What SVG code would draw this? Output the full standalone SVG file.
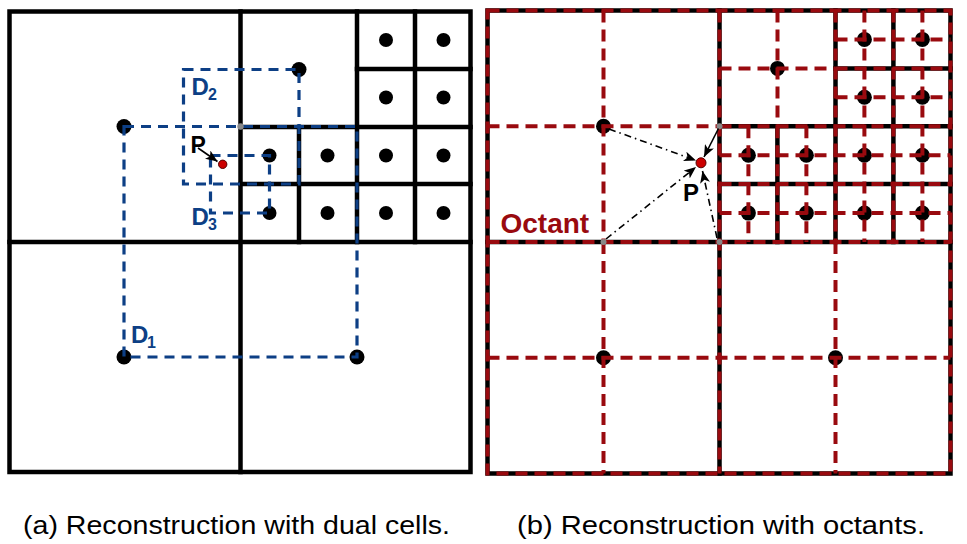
<svg xmlns="http://www.w3.org/2000/svg" width="967" height="544" viewBox="0 0 967 544">
<style>
.grid{stroke:#000;stroke-width:4.5;fill:none;stroke-linecap:square}
.blue{stroke:#0d3f85;stroke-width:3.2;fill:none;stroke-dasharray:10 7}
.red{stroke:#990a0f;stroke-width:4;fill:none;stroke-dasharray:12 7}
.dot{fill:#000}
.gray{fill:#888}
.pdot{fill:#cc0000;stroke:#550000;stroke-width:1}
.lbl{font-family:"Liberation Sans",Arial,sans-serif;font-weight:bold}
.blab{fill:#0d3f85}
.cap{font-family:"Liberation Sans",Arial,sans-serif;font-size:26px;fill:#000}
.arr{stroke:#000;stroke-width:1.6;fill:none}
.dd{stroke-dasharray:7 4 1.5 4}
</style>
<defs>
<marker id="ah" viewBox="0 0 12 10" refX="12" refY="5" markerWidth="12" markerHeight="10" markerUnits="userSpaceOnUse" orient="auto">
<path d="M0,0 L12,5 L0,10 L3,5 z" fill="#000"/>
</marker>
</defs>
<rect width="967" height="544" fill="#fff"/>

<!-- Panel (a) -->
<g id="a-grid" class="grid">
<rect x="9.5" y="11.5" width="461" height="460.5"/>
<line x1="240.5" y1="11.5" x2="240.5" y2="472"/>
<line x1="9.5" y1="242" x2="470.5" y2="242"/>
<line x1="357" y1="11.5" x2="357" y2="242"/>
<line x1="415" y1="11.5" x2="415" y2="242"/>
<line x1="299" y1="127" x2="299" y2="242"/>
<line x1="240.5" y1="127" x2="470.5" y2="127"/>
<line x1="357" y1="69" x2="470.5" y2="69"/>
<line x1="240.5" y1="184" x2="470.5" y2="184"/>
</g>
<g id="a-dots">
<circle class="dot" cx="124" cy="126.5" r="7.5"/>
<circle class="dot" cx="124" cy="357" r="7.5"/>
<circle class="dot" cx="357" cy="357" r="7.5"/>
<circle class="dot" cx="299" cy="69.5" r="7.5"/>
<circle class="dot" cx="386" cy="40" r="7"/>
<circle class="dot" cx="443.5" cy="40" r="7"/>
<circle class="dot" cx="386" cy="97.5" r="7"/>
<circle class="dot" cx="443.5" cy="97.5" r="7"/>
<circle class="dot" cx="269.5" cy="155.5" r="7"/>
<circle class="dot" cx="327.5" cy="155.5" r="7"/>
<circle class="dot" cx="386" cy="155.5" r="7"/>
<circle class="dot" cx="443.5" cy="155.5" r="7"/>
<circle class="dot" cx="269.5" cy="213" r="7"/>
<circle class="dot" cx="327.5" cy="213" r="7"/>
<circle class="dot" cx="386" cy="213" r="7"/>
<circle class="dot" cx="443.5" cy="213" r="7"/>
</g>
<g id="dual-cells" class="blue">
<path d="M124,126.5 H357 V357 H124 Z"/>
<path d="M183.5,69.5 H299 V184 H183.5 Z"/>
<path d="M210.5,155.5 H269.5 V213 H210.5 Z"/>
</g>
<circle class="gray" cx="240.5" cy="126.5" r="3.2"/>
<g id="a-labels" class="lbl blab">
<text x="191.5" y="95" font-size="24">D<tspan x="208" y="100" font-size="16">2</tspan></text>
<text x="191.5" y="225" font-size="24">D<tspan x="208" y="230" font-size="16">3</tspan></text>
<text x="131" y="343" font-size="24">D<tspan x="147" y="347.5" font-size="16">1</tspan></text>
</g>
<g id="a-P">
<text class="lbl" x="190.5" y="152.5" font-size="23" fill="#000">P</text>
<line class="arr" x1="198" y1="148" x2="217.5" y2="161.5" stroke-width="2" marker-end="url(#ah)"/>
<circle class="pdot" cx="222.7" cy="164.3" r="4.2"/>
</g>

<!-- Panel (b) -->
<g id="b-grid" class="grid">
<rect x="487.5" y="10.5" width="463" height="463"/>
<line x1="719.5" y1="10.5" x2="719.5" y2="473.5"/>
<line x1="487.5" y1="242" x2="950.5" y2="242"/>
<line x1="835.5" y1="10.5" x2="835.5" y2="242"/>
<line x1="893.4" y1="10.5" x2="893.4" y2="242"/>
<line x1="777.4" y1="126.3" x2="777.4" y2="242"/>
<line x1="719.5" y1="126.3" x2="950.5" y2="126.3"/>
<line x1="835.5" y1="68.4" x2="950.5" y2="68.4"/>
<line x1="719.5" y1="184.1" x2="950.5" y2="184.1"/>
</g>
<g id="b-dots">
<circle class="dot" cx="603.5" cy="126.3" r="7.5"/>
<circle class="dot" cx="603.5" cy="357.8" r="7.5"/>
<circle class="dot" cx="835.5" cy="357.8" r="7.5"/>
<circle class="dot" cx="777.5" cy="68.4" r="7.5"/>
<circle class="dot" cx="864.4" cy="39.4" r="7.5"/>
<circle class="dot" cx="922.4" cy="39.4" r="7.5"/>
<circle class="dot" cx="864.4" cy="97.3" r="7.5"/>
<circle class="dot" cx="922.4" cy="97.3" r="7.5"/>
<circle class="dot" cx="748.4" cy="155.2" r="7.5"/>
<circle class="dot" cx="806.4" cy="155.2" r="7.5"/>
<circle class="dot" cx="864.4" cy="155.2" r="7.5"/>
<circle class="dot" cx="922.4" cy="155.2" r="7.5"/>
<circle class="dot" cx="748.4" cy="213.1" r="7.5"/>
<circle class="dot" cx="806.4" cy="213.1" r="7.5"/>
<circle class="dot" cx="864.4" cy="213.1" r="7.5"/>
<circle class="dot" cx="922.4" cy="213.1" r="7.5"/>
</g>
<g id="octants" class="red">
<rect x="487.5" y="10.5" width="463" height="463"/>
<line x1="719.5" y1="10.5" x2="719.5" y2="473.5"/>
<line x1="487.5" y1="242" x2="950.5" y2="242"/>
<line x1="835.5" y1="10.5" x2="835.5" y2="242"/>
<line x1="893.4" y1="10.5" x2="893.4" y2="242"/>
<line x1="777.4" y1="126.3" x2="777.4" y2="242"/>
<line x1="719.5" y1="126.3" x2="950.5" y2="126.3"/>
<line x1="835.5" y1="68.4" x2="950.5" y2="68.4"/>
<line x1="719.5" y1="184.1" x2="950.5" y2="184.1"/>
<line x1="487.5" y1="126.3" x2="719.5" y2="126.3"/>
<line x1="603.5" y1="10.5" x2="603.5" y2="242"/>
<line x1="487.5" y1="357.8" x2="950.5" y2="357.8"/>
<line x1="603.5" y1="242" x2="603.5" y2="473.5"/>
<line x1="835.5" y1="242" x2="835.5" y2="473.5"/>
<line x1="719.5" y1="68.4" x2="835.5" y2="68.4"/>
<line x1="777.5" y1="10.5" x2="777.5" y2="126.3"/>
<line x1="835.5" y1="39.4" x2="950.5" y2="39.4"/>
<line x1="835.5" y1="97.3" x2="950.5" y2="97.3"/>
<line x1="719.5" y1="155.2" x2="950.5" y2="155.2"/>
<line x1="719.5" y1="213.1" x2="950.5" y2="213.1"/>
<line x1="864.4" y1="10.5" x2="864.4" y2="242"/>
<line x1="922.4" y1="10.5" x2="922.4" y2="242"/>
<line x1="748.4" y1="126.3" x2="748.4" y2="242"/>
<line x1="806.4" y1="126.3" x2="806.4" y2="242"/>
</g>
<g id="b-gray">
<circle class="gray" cx="603.5" cy="242" r="3"/>
<circle class="gray" cx="719.5" cy="242" r="3"/>
<circle class="gray" cx="719.5" cy="126.3" r="3"/>
</g>
<g id="connectors">
<line class="arr dd" x1="609" y1="129" x2="696" y2="160.5" marker-end="url(#ah)"/>
<line class="arr" x1="718.5" y1="128.5" x2="704" y2="157" marker-end="url(#ah)"/>
<line class="arr dd" x1="606" y1="239" x2="696" y2="167" marker-end="url(#ah)"/>
<line class="arr dd" x1="717" y1="238" x2="702.5" y2="171" marker-end="url(#ah)"/>
</g>
<g id="b-P">
<circle class="pdot" cx="701" cy="162.8" r="5"/>
<text class="lbl" x="683" y="201" font-size="24" fill="#000">P</text>
</g>
<text id="octant-label" class="lbl" x="500.5" y="233" font-size="28" fill="#990a0f">Octant</text>

<!-- Captions -->
<text class="cap" x="23" y="534" textLength="427" lengthAdjust="spacingAndGlyphs">(a) Reconstruction with dual cells.</text>
<text class="cap" x="517" y="534" textLength="408" lengthAdjust="spacingAndGlyphs">(b) Reconstruction with octants.</text>
</svg>
